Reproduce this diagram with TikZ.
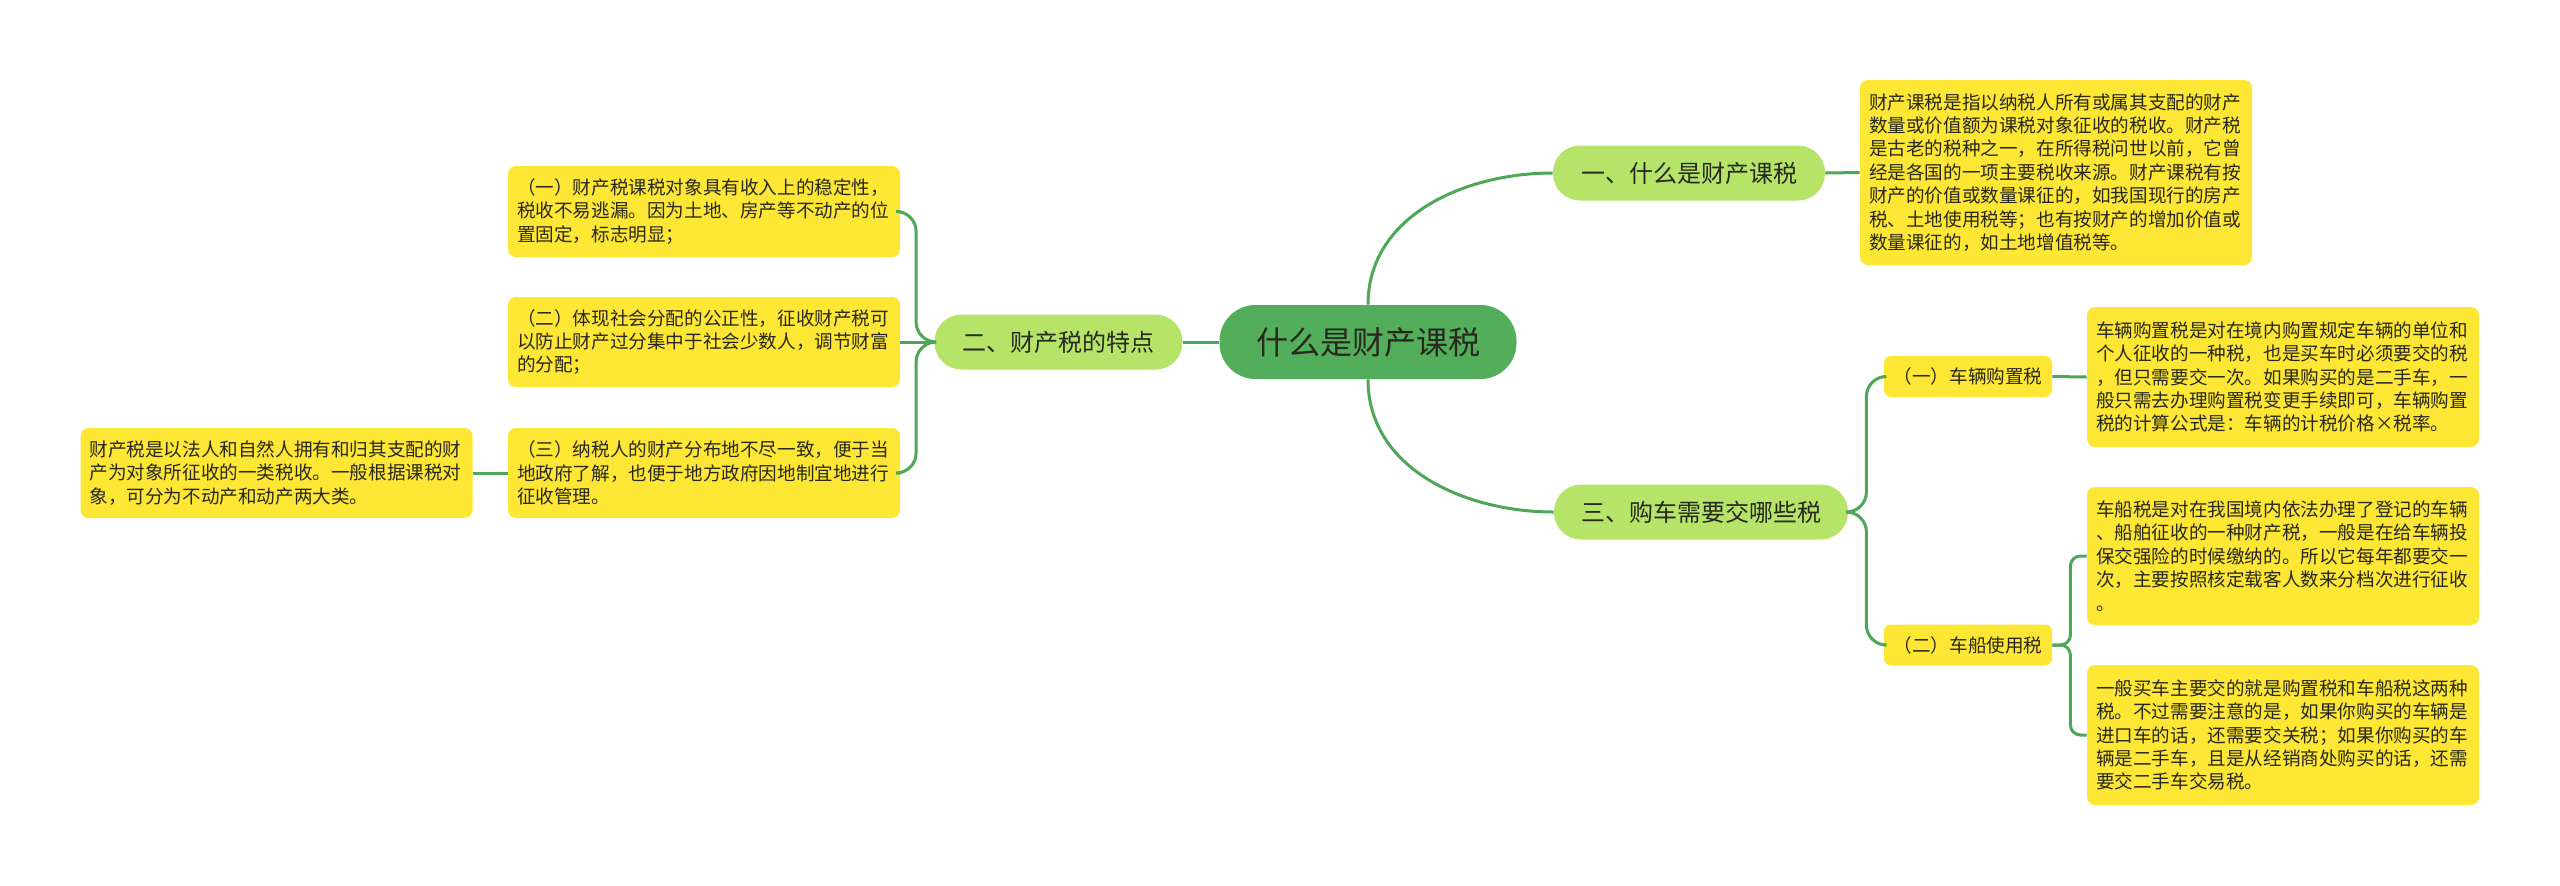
\documentclass[tikz,border=0pt]{standalone}
\usepackage{fontspec}
\usepackage{xcolor}
\usepackage{tikz}
\newfontfamily\cjk{Noto Sans CJK SC}
\definecolor{RootGreen}{RGB}{82,174,90}
\definecolor{BranchGreen}{RGB}{181,228,104}
\definecolor{NoteYellow}{RGB}{253,231,52}
\definecolor{LinkGreen}{RGB}{78,166,88}
\definecolor{InkText}{RGB}{40,40,30}
\tikzset{
  rootbox/.style={fill=RootGreen,rounded corners=18pt,inner sep=0pt,
    minimum width=148.5pt,minimum height=37pt,text=InkText,
    font=\cjk\fontsize{16}{18}\selectfont},
  branchbox/.style={fill=BranchGreen,rounded corners=13.5pt,inner sep=0pt,
    minimum height=27.5pt,text=InkText,font=\cjk\fontsize{12}{14}\selectfont},
  subbox/.style={fill=NoteYellow,rounded corners=3.5pt,inner sep=0pt,
    minimum width=84pt,minimum height=20.5pt,text=InkText,
    font=\cjk\fontsize{9.3}{11.7}\selectfont},
  notebox/.style={fill=NoteYellow,rounded corners=4pt,inner xsep=4.5pt,
    inner ysep=0pt,text width=187pt,align=left,text=InkText,
    font=\cjk\fontsize{9.3}{11.7}\selectfont},
  link/.style={draw=LinkGreen,line width=1.5pt}
}

\begin{document}
\begin{tikzpicture}[x=0.5pt,y=-0.5pt]
    \useasboundingbox (0,0) rectangle (2560,885);

    \node[rootbox] (root) at (1368,342) {什么是财产课税};

    \node[branchbox,minimum width=136pt] (sec1) at (1689,173) {一、什么是财产课税};
    \node[branchbox,minimum width=124pt] (sec2) at (1058.5,342) {二、财产税的特点};
    \node[branchbox,minimum width=147pt] (sec3) at (1701,512) {三、购车需要交哪些税};

    \node[notebox,minimum height=92.5pt] (note1) at (2056,172.5) {
      财产课税是指以纳税人所有或属其支配的财产\\
      数量或价值额为课税对象征收的税收。财产税\\
      是古老的税种之一，在所得税问世以前，它曾\\
      经是各国的一项主要税收来源。财产课税有按\\
      财产的价值或数量课征的，如我国现行的房产\\
      税、土地使用税等；也有按财产的增加价值或\\
      数量课征的，如土地增值税等。};

    \node[notebox,minimum height=45.5pt] (feat1) at (704,211.5) {
      （一）财产税课税对象具有收入上的稳定性，\\
      税收不易逃漏。因为土地、房产等不动产的位\\
      置固定，标志明显；};
    \node[notebox,minimum height=45pt] (feat2) at (704,342) {
      （二）体现社会分配的公正性，征收财产税可\\
      以防止财产过分集中于社会少数人，调节财富\\
      的分配；};
    \node[notebox,minimum height=45pt] (feat3) at (704,473) {
      （三）纳税人的财产分布地不尽一致，便于当\\
      地政府了解，也便于地方政府因地制宜地进行\\
      征收管理。};
    \node[notebox,minimum height=45pt] (featnote) at (276.5,473) {
      财产税是以法人和自然人拥有和归其支配的财\\
      产为对象所征收的一类税收。一般根据课税对\\
      象，可分为不动产和动产两大类。};

    \node[subbox] (buy1) at (1968,376.5) {（一）车辆购置税};
    \node[subbox] (buy2) at (1968,645) {（二）车船使用税};

    \node[notebox,minimum height=70pt] (buynote) at (2283,377) {
      车辆购置税是对在境内购置规定车辆的单位和\\
      个人征收的一种税，也是买车时必须要交的税\\
      ，但只需要交一次。如果购买的是二手车，一\\
      般只需去办理购置税变更手续即可，车辆购置\\
      税的计算公式是：车辆的计税价格×税率。};
    \node[notebox,minimum height=69pt] (shipnote) at (2283,556) {
      车船税是对在我国境内依法办理了登记的车辆\\
      、船舶征收的一种财产税，一般是在给车辆投\\
      保交强险的时候缴纳的。所以它每年都要交一\\
      次，主要按照核定载客人数来分档次进行征收\\
      。};
    \node[notebox,minimum height=70pt] (tipnote) at (2283,735) {
      一般买车主要交的就是购置税和车船税这两种\\
      税。不过需要注意的是，如果你购买的车辆是\\
      进口车的话，还需要交关税；如果你购买的车\\
      辆是二手车，且是从经销商处购买的话，还需\\
      要交二手车交易税。};

    \draw[link] (root.north) to[out=90,in=180] (sec1.west);
    \draw[link] (root.south) to[out=-90,in=180] (sec3.west);
    \draw[link] (root.west) -- (sec2.east);
    \draw[link] (sec1.east) -- (note1.west);

    \draw[link,rounded corners=10pt] (sec2.west) -- ++(-18,0) |- (feat1.east);
    \draw[link,rounded corners=10pt] (sec2.west) -- ++(-18,0) |- (feat3.east);
    \draw[link] (sec2.west) -- (feat2.east);
    \draw[link] (feat3.west) -- (featnote.east);

    \draw[link,rounded corners=10pt] (sec3.east) -- ++(18,0) |- (buy1.west);
    \draw[link,rounded corners=10pt] (sec3.east) -- ++(18,0) |- (buy2.west);
    \draw[link] (buy1.east) -- (buynote.west);
    \draw[link,rounded corners=5pt] (buy2.east) -- ++(18,0) |- (shipnote.west);
    \draw[link,rounded corners=5pt] (buy2.east) -- ++(18,0) |- (tipnote.west);
  \end{tikzpicture}
\end{document}
